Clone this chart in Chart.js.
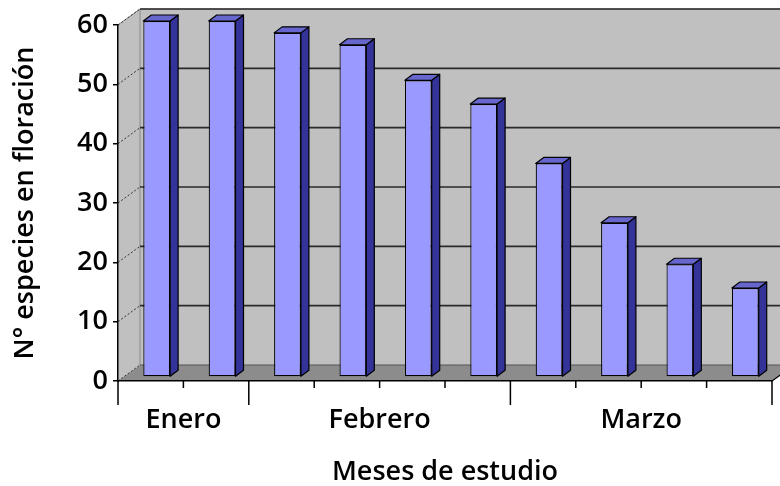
<!DOCTYPE html>
<html>
<head>
<meta charset="utf-8">
<script src="https://cdn.jsdelivr.net/npm/chart.js@4/dist/chart.umd.min.js"></script>
<style>
  html, body { margin: 0; padding: 0; background: #fff; }
  #wrap { width: 780px; height: 486px; }
</style>
</head>
<body>
<div id="wrap"><canvas id="c" width="780" height="486"></canvas></div>
<script>
// Flowering species counted at each sampling date, grouped by month
const months = ['Enero', 'Febrero', 'Marzo'];
const samplesPerMonth = [2, 4, 4];
const species = [60, 60, 58, 56, 50, 46, 36, 26, 19, 15];
const yTicks = [0, 10, 20, 30, 40, 50, 60];
const yTitle = 'N° especies en floración';
const xTitle = 'Meses de estudio';

// one category per sampling date, tagged with its month
const categories = [];
const monthOf = [];
months.forEach((m, i) => {
  for (let k = 1; k <= samplesPerMonth[i]; k++) {
    categories.push(m + ' ' + k);
    monthOf.push(i);
  }
});

const FONT = 'Open Sans';
const WALL_DX = 22, WALL_DY = -16;   // depth of the walls and floor
const BAR_TX = 6, BAR_TY = -4;       // bars stand a little behind the front edge
const BAR_DX = 8, BAR_DY = -6;       // thickness of each column
const COL_FRONT = '#9999ff', COL_SIDE = '#333399', COL_TOP = '#6666cc';

const walls = {
  id: 'walls',
  beforeDraw(chart) {
    const { ctx, chartArea: a, scales: { y } } = chart;
    const W = chart.width;
    const f0 = y.getPixelForValue(0), fTop = y.getPixelForValue(60);
    ctx.save();
    // back wall
    ctx.fillStyle = '#c0c0c0';
    ctx.fillRect(a.left + WALL_DX, fTop + WALL_DY, W - a.left - WALL_DX, f0 - fTop);
    // side wall
    ctx.beginPath();
    ctx.moveTo(a.left, fTop);
    ctx.lineTo(a.left + WALL_DX, fTop + WALL_DY);
    ctx.lineTo(a.left + WALL_DX, f0 + WALL_DY);
    ctx.lineTo(a.left, f0);
    ctx.closePath();
    ctx.fill();
    ctx.strokeStyle = '#8a8a8a';
    ctx.lineWidth = 1;
    ctx.beginPath();
    ctx.moveTo(a.left, fTop);
    ctx.lineTo(a.left + WALL_DX, fTop + WALL_DY);
    ctx.lineTo(W, fTop + WALL_DY);
    ctx.moveTo(a.left + WALL_DX, fTop + WALL_DY);
    ctx.lineTo(a.left + WALL_DX, f0 + WALL_DY);
    ctx.stroke();
    // floor
    ctx.fillStyle = '#8c8c8c';
    ctx.beginPath();
    ctx.moveTo(a.left, f0);
    ctx.lineTo(a.left + WALL_DX, f0 + WALL_DY);
    ctx.lineTo(a.right + WALL_DX, f0 + WALL_DY);
    ctx.lineTo(a.right, f0);
    ctx.closePath();
    ctx.fill();
    ctx.strokeStyle = '#000';
    ctx.lineWidth = 1.2;
    ctx.beginPath();
    ctx.moveTo(a.right, f0);
    ctx.lineTo(a.right + WALL_DX, f0 + WALL_DY);
    ctx.stroke();
    // gridlines on the back wall and the side wall
    yTicks.forEach(v => {
      const fy = y.getPixelForValue(v);
      if (v > 0) {
        ctx.strokeStyle = '#2a2a2a';
        ctx.lineWidth = 1.6;
        ctx.setLineDash([]);
        ctx.beginPath();
        ctx.moveTo(a.left + WALL_DX, fy + WALL_DY);
        ctx.lineTo(W, fy + WALL_DY);
        ctx.stroke();
      }
      ctx.strokeStyle = '#333';
      ctx.lineWidth = 1;
      ctx.setLineDash([2, 2]);
      ctx.beginPath();
      ctx.moveTo(a.left, fy);
      ctx.lineTo(a.left + WALL_DX, fy + WALL_DY);
      ctx.stroke();
    });
    ctx.setLineDash([]);
    ctx.strokeStyle = '#555';
    ctx.lineWidth = 1;
    ctx.beginPath();
    ctx.moveTo(a.left + WALL_DX, f0 + WALL_DY);
    ctx.lineTo(a.right + WALL_DX, f0 + WALL_DY);
    ctx.stroke();
    ctx.restore();
  },
  beforeDatasetsDraw(chart) {
    chart.ctx.save();
    chart.ctx.translate(BAR_TX, BAR_TY);
  },
  afterDatasetsDraw(chart) {
    const ctx = chart.ctx;
    ctx.restore();
    const meta = chart.getDatasetMeta(0);
    ctx.save();
    ctx.strokeStyle = '#000';
    ctx.lineWidth = 1.2;
    ctx.lineJoin = 'round';
    meta.data.forEach(el => {
      const { x, y, base, width } = el.getProps(['x', 'y', 'base', 'width'], true);
      const l = x - width / 2 + BAR_TX, r = x + width / 2 + BAR_TX;
      const t = y + BAR_TY, b = base + BAR_TY;
      // side face
      ctx.fillStyle = COL_SIDE;
      ctx.beginPath();
      ctx.moveTo(r, t);
      ctx.lineTo(r + BAR_DX, t + BAR_DY);
      ctx.lineTo(r + BAR_DX, b + BAR_DY);
      ctx.lineTo(r, b);
      ctx.closePath();
      ctx.fill();
      ctx.stroke();
      // top face
      ctx.fillStyle = COL_TOP;
      ctx.beginPath();
      ctx.moveTo(l, t);
      ctx.lineTo(l + BAR_DX, t + BAR_DY);
      ctx.lineTo(r + BAR_DX, t + BAR_DY);
      ctx.lineTo(r, t);
      ctx.closePath();
      ctx.fill();
      ctx.stroke();
    });
    ctx.restore();
  },
  afterDraw(chart) {
    const { ctx, chartArea: a, scales: { x } } = chart;
    const f0 = chart.scales.y.getPixelForValue(0);
    const longEnd = f0 + 24, shortEnd = f0 + 7;
    ctx.save();
    ctx.strokeStyle = '#000';
    ctx.lineWidth = 1.5;
    ctx.beginPath();
    ctx.moveTo(a.left, f0);
    ctx.lineTo(a.left, longEnd);
    ctx.moveTo(a.right, f0);
    ctx.lineTo(a.right, longEnd);
    for (let i = 1; i < categories.length; i++) {
      const bx = (x.getPixelForValue(i - 1) + x.getPixelForValue(i)) / 2;
      const isMonthEdge = monthOf[i] !== monthOf[i - 1];
      ctx.moveTo(bx, f0);
      ctx.lineTo(bx, isMonthEdge ? longEnd : shortEnd);
    }
    ctx.stroke();
    // month labels centred under their group of dates
    ctx.fillStyle = '#000';
    ctx.font = '600 27px "' + FONT + '"';
    ctx.textAlign = 'center';
    ctx.textBaseline = 'alphabetic';
    months.forEach((m, i) => {
      const first = monthOf.indexOf(i), last = monthOf.lastIndexOf(i);
      const cx = (x.getPixelForValue(first) + x.getPixelForValue(last)) / 2;
      ctx.fillText(m, cx, f0 + 47);
    });
    ctx.restore();
  }
};

new Chart(document.getElementById('c'), {
  type: 'bar',
  data: {
    labels: categories,
    datasets: [{
      data: species,
      backgroundColor: COL_FRONT,
      borderColor: '#000',
      borderWidth: 1.2,
      borderSkipped: false,
      categoryPercentage: 1,
      barPercentage: 0.41,
      clip: false
    }]
  },
  options: {
    responsive: false,
    animation: false,
    devicePixelRatio: 1,
    layout: { padding: { top: 25, right: 8, left: 0, bottom: 0 } },
    plugins: { legend: { display: false }, tooltip: { enabled: false } },
    scales: {
      x: {
        type: 'category',
        grid: { display: false },
        border: { display: true, color: '#000', width: 1.5 },
        ticks: { display: false },
        title: {
          display: true, text: xTitle, color: '#000', padding: 0,
          font: { family: FONT, size: 27, weight: '600', lineHeight: 1 }
        },
        afterFit(s) { s.height = 105; }
      },
      y: {
        min: 0, max: 60,
        afterBuildTicks(s) { s.ticks = yTicks.map(v => ({ value: v })); },
        ticks: { color: '#000', padding: 5, font: { family: FONT, size: 27, weight: '600' } },
        grid: { drawOnChartArea: false, drawTicks: true, tickLength: 5, color: '#000', lineWidth: 1.5 },
        border: { display: true, color: '#000', width: 1.5 },
        title: {
          display: true, text: yTitle, color: '#000', padding: { top: 9, bottom: 0 },
          font: { family: FONT, size: 27, weight: '600' }
        },
        afterFit(s) { s.width = 118; }
      }
    }
  },
  plugins: [walls]
});
</script>
</body>
</html>
